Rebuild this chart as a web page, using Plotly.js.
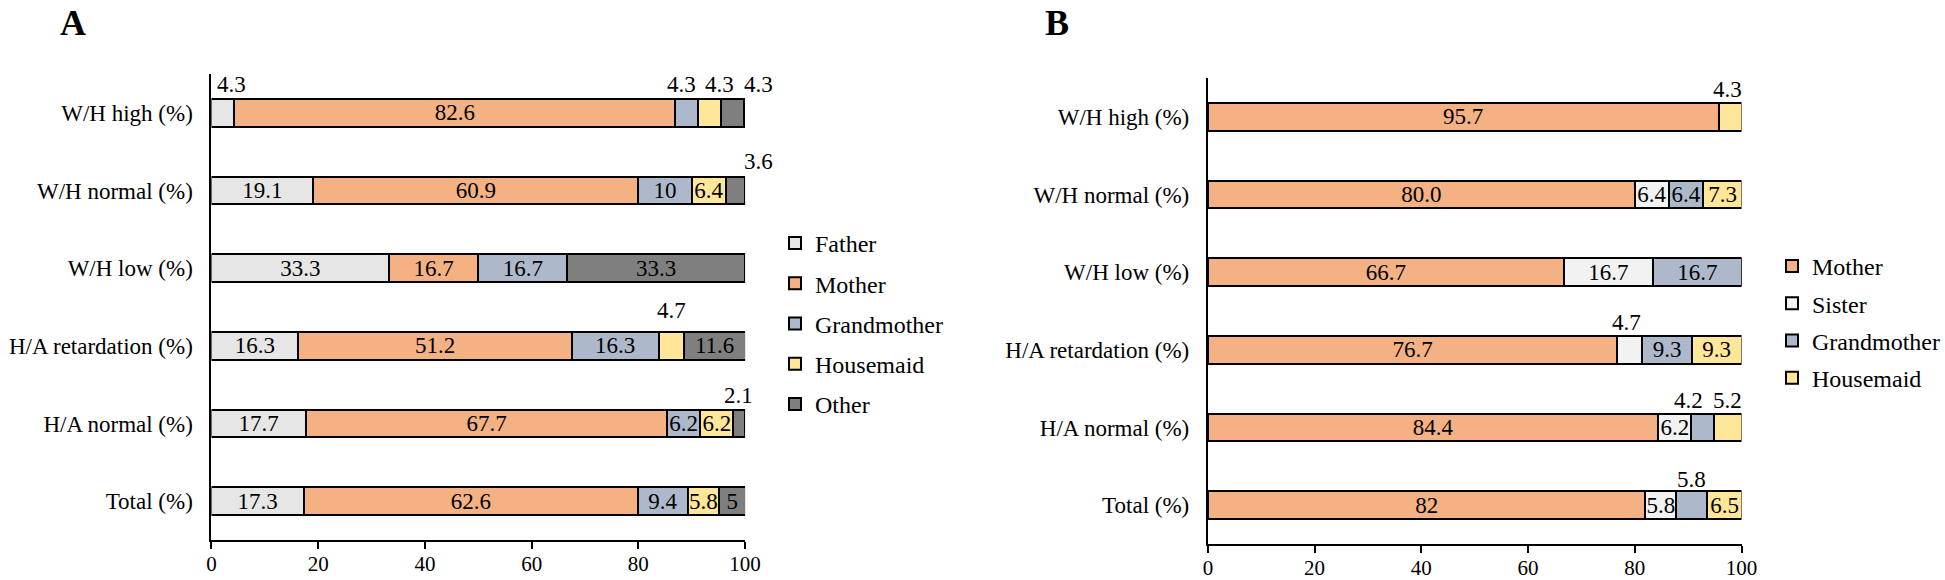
<!DOCTYPE html>
<html>
<head>
<meta charset="utf-8">
<script src="https://cdn.plot.ly/plotly-3.0.1.min.js"></script>
<style>html,body{margin:0;padding:0;background:#fff;}#chart{width:1945px;height:580px;}</style>
</head>
<body>
<div id="chart"></div>
<script>
// ---------- DATA ----------
const categories = ["W/H high (%)", "W/H normal (%)", "W/H low (%)", "H/A retardation (%)", "H/A normal (%)", "Total (%)"];
const xTicks = [0, 20, 40, 60, 80, 100];

// Panel A
const seriesA = ["Father", "Mother", "Grandmother", "Housemaid", "Other"];
const aFather      = [4.3, 19.1, 33.3, 16.3, 17.7, 17.3];
const aMother      = [82.6, 60.9, 16.7, 51.2, 67.7, 62.6];
const aGrandmother = [4.3, 10, 16.7, 16.3, 6.2, 9.4];
const aHousemaid   = [4.3, 6.4, 0, 4.7, 6.2, 5.8];
const aOther       = [4.3, 3.6, 33.3, 11.6, 2.1, 5];

// Panel B
const seriesB = ["Mother", "Sister", "Grandmother", "Housemaid"];
const bMother      = [95.7, 80.0, 66.7, 76.7, 84.4, 82];
const bSister      = [0, 6.4, 16.7, 4.7, 6.2, 5.8];
const bGrandmother = [0, 6.4, 16.7, 9.3, 4.2, 5.8];
const bHousemaid   = [4.3, 7.3, 0, 9.3, 5.2, 6.5];
const bLabelOverrides = {"Mother-1": "80.0"};

// ---------- STYLE ----------
const colors = {
  Father: "#e7e6e6", Mother: "#f4b183", Grandmother: "#adb9ca",
  Housemaid: "#ffe699", Other: "#7f7f7f", Sister: "#f2f2f2"
};
const FONT = "Liberation Serif";

// labels drawn above the bar: [category index, series, xshift px, yshift px]
const aboveA = [[0,"Father",9,28],[0,"Grandmother",-5,28],[0,"Housemaid",10,28],[0,"Other",26,28],
                [1,"Other",23,29],[3,"Housemaid",0,35],[4,"Other",0,28]];
const aboveB = [[0,"Housemaid",-3,27],[3,"Sister",-3,27],[4,"Grandmother",-14,27],
                [4,"Housemaid",0,27],[5,"Grandmother",0,26]];

const dataA = {Father: aFather, Mother: aMother, Grandmother: aGrandmother, Housemaid: aHousemaid, Other: aOther};
const dataB = {Mother: bMother, Sister: bSister, Grandmother: bGrandmother, Housemaid: bHousemaid};

function isAbove(list, i, s) { return list.some(e => e[0] === i && e[1] === s); }

const traces = [];
const annotations = [];

function buildPanel(seriesNames, data, above, xa, ya, legendName, overrides) {
  seriesNames.forEach((s) => {
    const vals = data[s];
    const text = vals.map((v, i) => {
      if (v <= 0 || isAbove(above, i, s)) return "";
      return (overrides && overrides[s + "-" + i]) || String(v);
    });
    traces.push({
      type: "bar", orientation: "h", name: s,
      x: vals, y: categories,
      xaxis: xa, yaxis: ya, legend: legendName, legendgroup: legendName + s,
      marker: {color: colors[s], line: {color: "#000", width: 2}},
      text: text, textposition: "inside", insidetextanchor: "middle",
      constraintext: "none", textangle: 0,
      insidetextfont: {family: FONT, size: 23, color: "#000"},
      hoverinfo: "skip"
    });
  });
  above.forEach(([ci, s, dx, dy]) => {
    const idx = seriesNames.indexOf(s);
    let start = 0;
    for (let k = 0; k < idx; k++) start += data[seriesNames[k]][ci];
    const v = data[s][ci];
    annotations.push({
      x: start + v / 2, y: categories[ci], xref: xa, yref: ya,
      text: String(v), showarrow: false, xshift: dx, yshift: dy,
      font: {family: FONT, size: 23, color: "#000"}
    });
  });
}

buildPanel(seriesA, dataA, aboveA, "x", "y", "legend", null);
buildPanel(seriesB, dataB, aboveB, "x2", "y2", "legend2", bLabelOverrides);

annotations.push({xref: "paper", yref: "paper", x: 73/1945, y: 1 - 23/580, xanchor: "center", yanchor: "middle",
  text: "<b>A</b>", showarrow: false, font: {family: FONT, size: 36, color: "#000"}});
annotations.push({xref: "paper", yref: "paper", x: 1060/1945, y: 1 - 23/580, xanchor: "center", yanchor: "middle",
  text: "<b>B</b>", showarrow: false, font: {family: FONT, size: 36, color: "#000"}});

const xBase = {
  range: [0, 100], tickvals: xTicks, ticktext: xTicks.map(String),
  showline: true, linecolor: "#000", linewidth: 2,
  ticks: "outside", ticklen: 7, tickwidth: 2, tickcolor: "#000",
  ticklabelstandoff: -3,
  showgrid: false, zeroline: false,
  tickfont: {family: FONT, size: 21, color: "#000"}, fixedrange: true
};
const yBase = {
  type: "category", categoryorder: "array", categoryarray: categories,
  range: [5.5, -0.5], showline: true, linecolor: "#000", linewidth: 2,
  ticks: "", showgrid: false, zeroline: false, ticklabelstandoff: 12,
  tickfont: {family: FONT, size: 23, color: "#000"}, fixedrange: true
};

const layout = {
  width: 1945, height: 580,
  margin: {l: 0, r: 0, t: 0, b: 0},
  paper_bgcolor: "#fff", plot_bgcolor: "#fff",
  barmode: "stack", bargap: 0.64,
  showlegend: true,
  xaxis: Object.assign({}, xBase, {domain: [212/1945, 747/1945], anchor: "y"}),
  yaxis: Object.assign({}, yBase, {domain: [(580-540)/580, (580-74)/580], anchor: "x"}),
  xaxis2: Object.assign({}, xBase, {domain: [1211/1945, 1746/1945], anchor: "y2"}),
  yaxis2: Object.assign({}, yBase, {domain: [(580-544)/580, (580-78)/580], anchor: "x2"}),
  legend: {x: 777/1945, y: 1 - 221/580, xanchor: "left", yanchor: "top",
    traceorder: "grouped", tracegroupgap: 6, bgcolor: "rgba(0,0,0,0)",
    font: {family: FONT, size: 24, color: "#000"}},
  legend2: {x: 1777/1945, y: 1 - 244/580, xanchor: "left", yanchor: "top",
    traceorder: "grouped", tracegroupgap: 3, bgcolor: "rgba(0,0,0,0)",
    font: {family: FONT, size: 24, color: "#000"}},
  annotations: annotations,
  font: {family: FONT, color: "#000"}
};

Plotly.newPlot("chart", traces, layout, {staticPlot: true, displayModeBar: false});
</script>
</body>
</html>
